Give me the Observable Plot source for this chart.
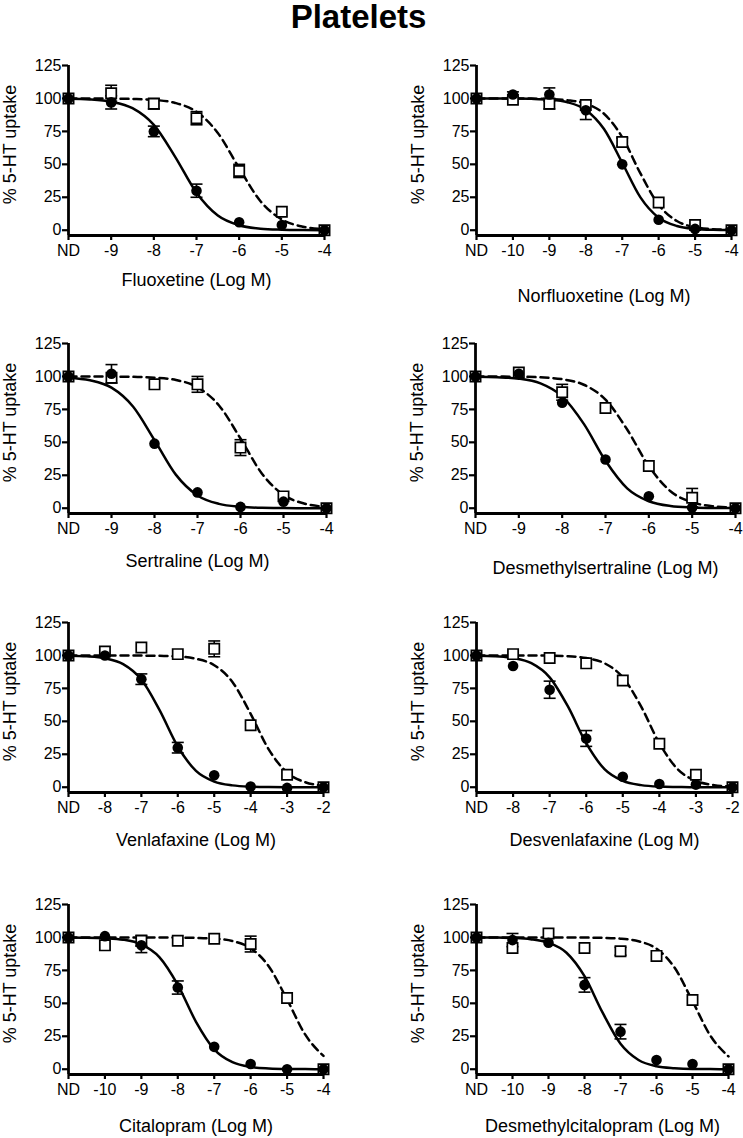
<!DOCTYPE html>
<html><head><meta charset="utf-8">
<script src="https://cdn.jsdelivr.net/npm/d3@7"></script>
<script src="https://cdn.jsdelivr.net/npm/@observablehq/plot@0.6"></script>
<style>
body{margin:0;background:#fff;font-family:"Liberation Sans",Arial,sans-serif;}
#title{height:40px;line-height:34px;text-align:center;font-size:33px;font-weight:bold;padding-right:26px;box-sizing:border-box;}
#grid{display:grid;grid-template-columns:371px 372px;}
#grid svg{display:block;}
</style></head><body>
<div id="title">Platelets</div>
<div id="grid"></div>
<script>
// ---- data ----
const drugNames = ["Fluoxetine","Norfluoxetine","Sertraline","Desmethylsertraline","Venlafaxine","Desvenlafaxine","Citalopram","Desmethylcitalopram"];
const ndLog = [-10,-11,-10,-10,-9,-9,-11,-11];   // log position used for "ND"
const maxLog = [-4,-4,-4,-4,-2,-2,-4,-4];

// Means (first value = ND, then one per log unit) and error (SEM)
const fluoxetineFilled = [100,97,75,30,6,4,0];
const fluoxetineFilledErr = [0,5,4,5,0,0,0];
const fluoxetineOpen = [100,104,96,85,45,14,0];
const fluoxetineOpenErr = [0,6,4,5,5,0,0];
const norfluoxetineFilled = [100,103,103,91,50,8,1,0];
const norfluoxetineFilledErr = [0,2,5,7,0,0,0,0];
const norfluoxetineOpen = [100,99,96,95,67,21,4,0];
const norfluoxetineOpenErr = [0,0,4,0,3,0,0,0];
const sertralineFilled = [100,102,49,12,1,5,0];
const sertralineFilledErr = [0,7,0,0,0,0,0];
const sertralineOpen = [100,99,94,94,46,9,0];
const sertralineOpenErr = [0,0,0,6,6,0,0];
const desmethylsertralineFilled = [100,102,80,37,9,0.5,0];
const desmethylsertralineFilledErr = [0,0,0,0,0,0,0];
const desmethylsertralineOpen = [100,103,88,76,32,8,0];
const desmethylsertralineOpenErr = [0,0,6,0,0,7,0];
const venlafaxineFilled = [100,100,82,30,9,0.5,-0.5,0];
const venlafaxineFilledErr = [0,0,4,4,0,0,0,0];
const venlafaxineOpen = [100,103,106,101,105,47,9.5,0];
const venlafaxineOpenErr = [0,0,0,0,6,0,0,0];
const desvenlafaxineFilled = [100,92,74,37,8,2.5,2,0];
const desvenlafaxineFilledErr = [0,0,6.5,6,0,0,0,0];
const desvenlafaxineOpen = [100,101,98,94,81,33,9.5,0];
const desvenlafaxineOpenErr = [0,0,0,0,0,0,0,0];
const citalopramFilled = [100,101,94,62,17,4,0,0];
const citalopramFilledErr = [0,0,5.5,5,0,0,0,0];
const citalopramOpen = [100,94,97.5,97.5,99,95,54,0];
const citalopramOpenErr = [0,0,4,0,0,6,0,0];
const desmethylcitalopramFilled = [100,98,96,64,28.5,7,4,0];
const desmethylcitalopramFilledErr = [0,5,0,5.5,5.5,0,0,0];
const desmethylcitalopramOpen = [100,92,103,92,89.5,86,52.5,0];
const desmethylcitalopramOpenErr = [0,0,0,0,3,0,0,0];

// Fitted curves every 0.5 log unit, from ND position to the last tick
const fluoxetineSolid = [99.7,99.2,97.5,92.6,79.9,55.7,28.5,11.2,3.8,1.2,0.4,0.1,0];
const fluoxetineDashed = [100,100,99.9,99.6,98.9,96.6,89.9,73.8,47.1,22.0,8.2,2.7,0.9];
const norfluoxetineSolid = [100,100,99.9,99.7,99.1,97.1,91.3,76.8,51.2,24.9,9.5,3.2,1.0,0.3,0.1];
const norfluoxetineDashed = [100,100,100,99.9,99.6,98.7,96.0,88.4,70.6,43.1,19.3,7.0,2.3,0.8,0.2];
const sertralineSolid = [99.1,97.1,91.5,77.2,51.7,25.3,9.7,3.3,1.1,0.3,0.1,0,0];
const sertralineDashed = [100,100,99.9,99.7,99.1,97.3,91.8,78.0,52.9,26.2,10.1,3.4,1.1];
const desmethylsertralineSolid = [99.8,99.4,98.3,94.7,84.9,64.0,36.0,15.1,5.3,1.7,0.6,0.2,0.1];
const desmethylsertralineDashed = [100,99.9,99.8,99.3,97.9,93.7,82.4,59.7,31.9,12.9,4.5,1.5,0.5];
const venlafaxineSolid = [99.8,99.3,97.8,93.4,81.7,58.5,30.9,12.4,4.3,1.4,0.4,0.1,0,0,0];
const venlafaxineDashed = [100,100,100,100,99.9,99.7,99.2,97.5,92.6,79.9,55.7,28.5,11.2,3.8,1.2];
const desvenlafaxineSolid = [99.8,99.4,98.0,94.1,83.4,61.3,33.4,13.7,4.8,1.6,0.5,0.2,0,0,0];
const desvenlafaxineDashed = [100,100,100,100,99.8,99.4,98.0,94.1,83.4,61.3,33.4,13.7,4.8,1.6,0.5];
const citalopramSolid = [99.9,99.8,99.4,98.3,94.7,84.9,64.0,36.0,15.1,5.3,1.7,0.6,0.2,0.1,0];
const citalopramDashed = [100,100,100,100,100,100,99.9,99.7,99.1,97.3,91.8,78.0,52.9,26.2,10.1];
const desmethylcitalopramSolid = [100,99.9,99.6,98.7,96.0,88.4,70.6,43.1,19.3,7.0,2.3,0.8,0.2,0.1,0];
const desmethylcitalopramDashed = [100,100,100,100,100,100,99.9,99.7,99.1,97.1,91.5,77.2,51.7,25.3,9.7];

const yTicks = [0,25,50,75,100,125];
const yLabel = "% 5-HT uptake";

const filledMeans = [fluoxetineFilled,norfluoxetineFilled,sertralineFilled,desmethylsertralineFilled,venlafaxineFilled,desvenlafaxineFilled,citalopramFilled,desmethylcitalopramFilled];
const filledErrs = [fluoxetineFilledErr,norfluoxetineFilledErr,sertralineFilledErr,desmethylsertralineFilledErr,venlafaxineFilledErr,desvenlafaxineFilledErr,citalopramFilledErr,desmethylcitalopramFilledErr];
const openMeans = [fluoxetineOpen,norfluoxetineOpen,sertralineOpen,desmethylsertralineOpen,venlafaxineOpen,desvenlafaxineOpen,citalopramOpen,desmethylcitalopramOpen];
const openErrs = [fluoxetineOpenErr,norfluoxetineOpenErr,sertralineOpenErr,desmethylsertralineOpenErr,venlafaxineOpenErr,desvenlafaxineOpenErr,citalopramOpenErr,desmethylcitalopramOpenErr];
const solidCurves = [fluoxetineSolid,norfluoxetineSolid,sertralineSolid,desmethylsertralineSolid,venlafaxineSolid,desvenlafaxineSolid,citalopramSolid,desmethylcitalopramSolid];
const dashedCurves = [fluoxetineDashed,norfluoxetineDashed,sertralineDashed,desmethylsertralineDashed,venlafaxineDashed,desvenlafaxineDashed,citalopramDashed,desmethylcitalopramDashed];

// ---- layout (style, not data) ----
const rowHeights = [278,279,282,259];
const leftMargins = [68,105,68,104,68,105,68,105];
const rightMargins = [47,12,45,8,48,11,48,15];
const xLabelOffsets = [45,61,48,55,48,48,52,52];
const FONT = "'Liberation Sans', Arial, Helvetica, sans-serif";

const capSymbol = {draw(ctx, size) { const w = Math.sqrt(size / Math.PI); ctx.moveTo(-w, 0); ctx.lineTo(w, 0); }};

function panel(i) {
  const nd = ndLog[i], mx = maxLog[i];
  const ticks = d3.range(nd, mx + 1);
  const pts = (vals, errs) => vals.map((v, k) => ({x: nd + k, y: v, e: errs[k]}));
  const filled = pts(filledMeans[i], filledErrs[i]);
  const open = pts(openMeans[i], openErrs[i]);
  const curve = vals => vals.map((v, k) => ({x: nd + k * 0.5, y: v}));
  const bars = [...filled, ...open].filter(d => d.e > 0);
  const col = i % 2, row = Math.floor(i / 2);
  const width = col ? 372 : 371;
  const height = rowHeights[row];
  const mt = 25;
  const mb = height - mt - 170;
  return Plot.plot({
    width, height,
    marginTop: mt, marginBottom: mb,
    marginLeft: leftMargins[i], marginRight: rightMargins[i],
    style: {fontFamily: FONT, fontSize: "16px", color: "black", background: "white", overflow: "visible"},
    x: {type: "linear", domain: [nd, mx]},
    y: {domain: [-4, 125]},
    marks: [
      Plot.line(curve(solidCurves[i]), {x: "x", y: "y", stroke: "black", strokeWidth: 2.5, curve: "monotone-x"}),
      Plot.line(curve(dashedCurves[i]), {x: "x", y: "y", stroke: "black", strokeWidth: 2.5, strokeDasharray: "8,5", curve: "monotone-x"}),
      Plot.link(bars, {x1: "x", x2: "x", y1: d => d.y - d.e, y2: d => d.y + d.e, stroke: "black", strokeWidth: 1.6}),
      Plot.dot(bars, {x: "x", y: d => d.y + d.e, symbol: capSymbol, r: 6, stroke: "black", strokeWidth: 1.6}),
      Plot.dot(bars, {x: "x", y: d => d.y - d.e, symbol: capSymbol, r: 6, stroke: "black", strokeWidth: 1.6}),
      Plot.dot(open, {x: "x", y: "y", symbol: "square", r: 5.8, fill: "white", stroke: "black", strokeWidth: 1.7}),
      Plot.dot(filled, {x: "x", y: "y", r: 5.3, fill: "black", stroke: "none"}),
      Plot.ruleY([-4], {stroke: "black", strokeWidth: 2.8}),
      Plot.ruleX([nd], {stroke: "black", strokeWidth: 2.8}),
      Plot.axisX({ticks, tickFormat: d => d === nd ? "ND" : String(d), tickSize: 5, tickPadding: 4, strokeWidth: 2.2, label: null, fontSize: 16}),
      Plot.axisY({ticks: yTicks, tickSize: 6, tickPadding: 1, strokeWidth: 2.2, label: null, fontSize: 16}),
      Plot.text([drugNames[i] + " (Log M)"], {text: d => d, frameAnchor: "bottom", dy: xLabelOffsets[i], lineAnchor: "middle", textAnchor: "middle", fontSize: 18, fill: "black"}),
      Plot.text([yLabel], {text: d => d, frameAnchor: "left", dx: -58, dy: -6, rotate: -90, lineAnchor: "middle", textAnchor: "middle", fontSize: 18, fill: "black"})
    ]
  });
}

const grid = document.getElementById("grid");
for (let i = 0; i < drugNames.length; i++) grid.appendChild(panel(i));
</script></body></html>
